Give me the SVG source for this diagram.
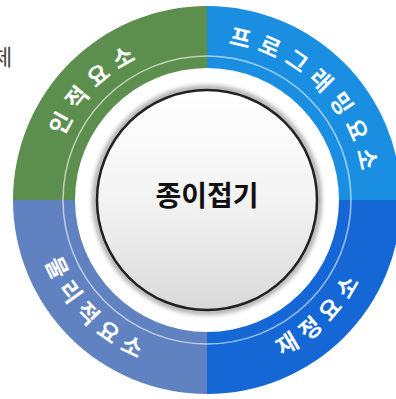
<svg xmlns="http://www.w3.org/2000/svg" width="396" height="399" viewBox="0 0 396 399">
<style>
.lbl{font-family:"Noto Sans CJK KR","Noto Sans",sans-serif;font-size:23px;font-weight:700;fill:#ffffff;letter-spacing:8px}
.ctr{font-family:"Noto Sans CJK KR","Noto Sans",sans-serif;font-size:28px;font-weight:700;fill:#111111}
</style>
<defs>
<linearGradient id="cg" x1="0" y1="0" x2="0" y2="1">
<stop offset="0" stop-color="#ffffff"/>
<stop offset="0.5" stop-color="#f3f3f3"/>
<stop offset="1" stop-color="#d9d9d9"/>
</linearGradient>
<filter id="sh" x="-20%" y="-20%" width="140%" height="140%">
<feGaussianBlur stdDeviation="2.5"/>
</filter>
<path id="pTL" d="M 50 200 A 157 157 0 0 1 207 43"/>
<path id="pTR" d="M 207 43 A 157 157 0 0 1 364 200"/>
<path id="pBL" d="M 34 200 A 173 173 0 0 0 207 373"/>
<path id="pBR" d="M 207 373 A 173 173 0 0 0 380 200"/>
</defs>
<rect width="396" height="399" fill="#ffffff"/>
<text x="-8" y="65" font-family="Noto Sans CJK KR, sans-serif" font-size="22" fill="#444444">체</text>
<g id="node-human">
<path d="M 207 200 L 13 200 A 194 194 0 0 1 207 6 Z" fill="#5c8f4d"/>
<text class="lbl"><textPath href="#pTL" startOffset="50%" text-anchor="middle">인적요소</textPath></text>
</g>
<g id="node-program">
<path d="M 207 200 L 207 6 A 194 194 0 0 1 401 200 Z" fill="#1a8fe2"/>
<text class="lbl"><textPath href="#pTR" startOffset="50%" text-anchor="middle">프로그래밍요소</textPath></text>
</g>
<g id="node-finance">
<path d="M 207 200 L 401 200 A 194 194 0 0 1 207 394 Z" fill="#1467d5"/>
<text class="lbl"><textPath href="#pBR" startOffset="50%" text-anchor="middle">재정요소</textPath></text>
</g>
<g id="node-physical">
<path d="M 207 200 L 207 394 A 194 194 0 0 1 13 200 Z" fill="#6182c1"/>
<text class="lbl"><textPath href="#pBL" startOffset="50%" text-anchor="middle">물리적요소</textPath></text>
</g>
<circle cx="207" cy="200" r="144" fill="none" stroke="#ffffff" stroke-opacity="0.6" stroke-width="1.5"/>
<g id="node-center">
<circle cx="207" cy="200" r="132" fill="#ffffff"/>
<circle cx="207" cy="200" r="112" fill="none" stroke="#8a8a8a" stroke-width="4" filter="url(#sh)"/>
<circle cx="207" cy="200" r="110" fill="url(#cg)" stroke="#222222" stroke-width="2.5"/>
<text class="ctr" x="207" y="206" text-anchor="middle">종이접기</text>
</g>
<g id="connectors"/>
</svg>
